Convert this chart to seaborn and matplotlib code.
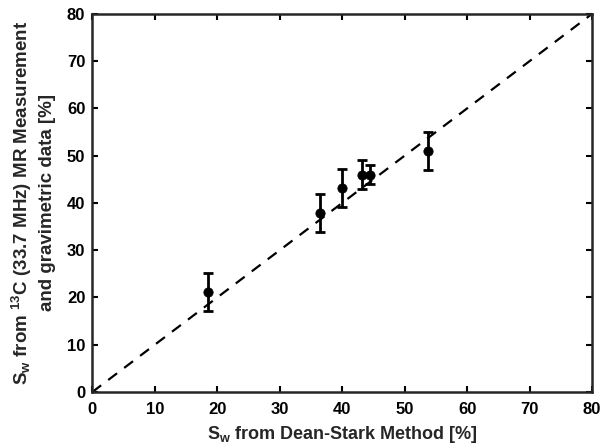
import matplotlib
matplotlib.use("Agg")
import matplotlib.pyplot as plt
import seaborn as sns
import pandas as pd

# values
deanStark = [18.5, 36.5, 40.0, 43.1, 44.4, 53.7]
nmrSw = [21.2, 37.8, 43.1, 46.0, 46.0, 51.0]
nmrErr = [4.0, 4.0, 4.0, 3.0, 2.0, 4.0]
parityLine = [0, 80]
tickValues = [0, 10, 20, 30, 40, 50, 60, 70, 80]

sns.set_style("ticks")
plt.rcParams["font.family"] = ["Liberation Sans", "DejaVu Sans"]
plt.rcParams["font.weight"] = "bold"
plt.rcParams["mathtext.fontset"] = "custom"
plt.rcParams["mathtext.rm"] = "Liberation Sans:bold"
plt.rcParams["mathtext.it"] = "Liberation Sans:bold"
plt.rcParams["mathtext.bf"] = "Liberation Sans:bold"

dataFrame = pd.DataFrame({"x": deanStark, "y": nmrSw})

fig = plt.figure(figsize = (6.03, 4.45), dpi = 100)
ax = fig.add_axes([0.153, 0.119, 0.829, 0.850])

sns.lineplot(x = parityLine, y = parityLine, ax = ax, color = "black",
             linestyle = (0, (5, 4)), linewidth = 1.6)
ax.errorbar(deanStark, nmrSw, yerr = nmrErr, fmt = "none", ecolor = "black",
            elinewidth = 2, capsize = 3.5, capthick = 2)
sns.scatterplot(data = dataFrame, x = "x", y = "y", ax = ax, color = "black",
                s = 45, edgecolor = "black", zorder = 5)

ax.set_xlim(0, 80)
ax.set_ylim(0, 80)
ax.set_xticks(tickValues)
ax.set_yticks(tickValues)
ax.tick_params(direction = "in", top = True, right = True, length = 4,
               width = 1.5, labelsize = 12, colors = "black")
ax.tick_params(axis = "x", pad = 7)
ax.tick_params(axis = "y", pad = 5)
for spine in ax.spines.values() :
    spine.set_visible(True)
    spine.set_linewidth(1.8)
    spine.set_color("#262626")

ax.set_xlabel(r"S$_w$ from Dean-Stark Method [%]", fontsize = 13,
              fontweight = "bold", labelpad = 5)
ax.set_ylabel(r"S$_w$ from $^{13}$C (33.7 MHz) MR Measurement" "\n"
              "and gravimetric data [%]", fontsize = 13.5,
              fontweight = "bold", labelpad = 8, linespacing = 1.4)

fig.savefig("out.png", dpi = 100)
